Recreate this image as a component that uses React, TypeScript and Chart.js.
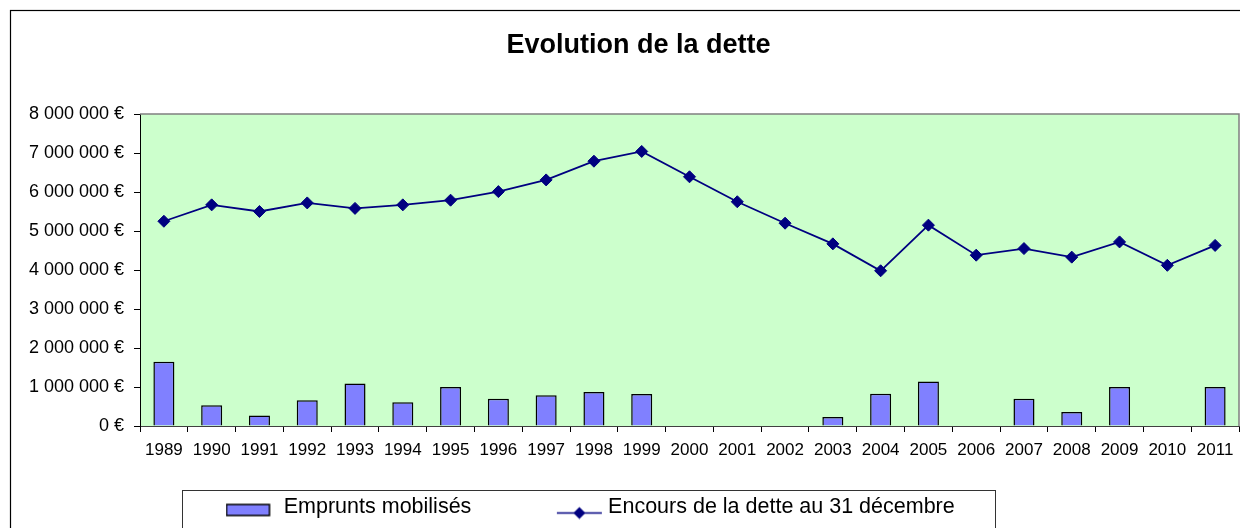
import React, { useEffect, useRef } from 'react';
import { Chart, registerables } from 'chart.js';

Chart.register(...registerables);

const TITLE = 'Evolution de la dette';
const YEARS = ['1989', '1990', '1991', '1992', '1993', '1994', '1995', '1996', '1997', '1998', '1999', '2000', '2001', '2002', '2003', '2004', '2005', '2006', '2007', '2008', '2009', '2010', '2011'];
const EMPRUNTS_LABEL = 'Emprunts mobilisés';
const ENCOURS_LABEL = 'Encours de la dette au 31 décembre';
const EMPRUNTS = [1650000, 530000, 270000, 660000, 1090000, 610000, 1000000, 700000, 790000, 870000, 820000, null, null, null, 230000, 830000, 1140000, null, 700000, 360000, 1000000, null, 1000000];
const ENCOURS = [5250000, 5670000, 5500000, 5720000, 5580000, 5670000, 5790000, 6010000, 6310000, 6790000, 7040000, 6390000, 5750000, 5200000, 4670000, 3980000, 5150000, 4380000, 4550000, 4330000, 4720000, 4120000, 4630000];
const Y_MIN = 0;
const Y_MAX = 8000000;
const Y_STEP = 1000000;

const FONT = "'Liberation Sans', Arial, Helvetica, sans-serif";
const W = 1268;
const H = 560;
const LEG_PAD = 79;

function fmtEuro(v: number): string {
  return String(Math.round(v)).replace(/\B(?=(\d{3})+(?!\d))/g, ' ') + ' €';
}

export default function App() {
  const ref = useRef<HTMLCanvasElement>(null);

  useEffect(() => {
    const canvas = ref.current;
    if (!canvas) return;

    const barImg = document.createElement('canvas');
    barImg.width = 48;
    barImg.height = 20;
    {
      const c = barImg.getContext('2d')!;
      c.fillStyle = '#8080FF';
      c.fillRect(1, 7, 43, 11);
      c.strokeStyle = '#000';
      c.lineWidth = 1.5;
      c.strokeRect(1, 7, 43, 11);
    }
    const lineImg = document.createElement('canvas');
    lineImg.width = 64;
    lineImg.height = 24;
    {
      const c = lineImg.getContext('2d')!;
      c.strokeStyle = '#000080';
      c.lineWidth = 1.5;
      c.beginPath();
      c.moveTo(15, 17.5);
      c.lineTo(60, 17.5);
      c.stroke();
      c.fillStyle = '#000080';
      c.beginPath();
      c.moveTo(31.5, 17.5);
      c.lineTo(37.5, 11.5);
      c.lineTo(43.5, 17.5);
      c.lineTo(37.5, 23.5);
      c.closePath();
      c.fill();
    }

    const deco = {
      id: 'deco',
      beforeLayout(chart: any) {
        const lg = chart.legend;
        if (lg && !lg.__patched) {
          const orig = lg.fit.bind(lg);
          lg.fit = function () {
            orig();
            this.height = 84;
          };
          lg.__patched = true;
        }
      },
      afterLayout(chart: any) {
        const lg = chart.legend;
        if (lg) {
          lg.left = 226 - LEG_PAD;
          lg.top = 417.75;
        }
      },
      beforeDraw(chart: any) {
        const { ctx, chartArea } = chart;
        ctx.save();
        ctx.fillStyle = '#ffffff';
        ctx.fillRect(0, 0, chart.width, chart.height);
        ctx.strokeStyle = '#000000';
        ctx.lineWidth = 1.2;
        ctx.strokeRect(10.5, 10.5, chart.width - 21, chart.height - 21);
        ctx.fillStyle = '#CCFFCC';
        ctx.fillRect(chartArea.left, chartArea.top, chartArea.right - chartArea.left, chartArea.bottom - chartArea.top);
        ctx.restore();
      },
      afterDraw(chart: any) {
        const { ctx, chartArea } = chart;
        ctx.save();
        ctx.strokeStyle = '#808080';
        ctx.lineWidth = 1.5;
        ctx.beginPath();
        ctx.moveTo(chartArea.left, chartArea.top);
        ctx.lineTo(chartArea.right, chartArea.top);
        ctx.lineTo(chartArea.right, chartArea.bottom);
        ctx.stroke();
        ctx.strokeStyle = '#333333';
        ctx.lineWidth = 1;
        ctx.strokeRect(182.5, 490.5, 813, 100);
        ctx.restore();
      },
    };

    const chart = new Chart(canvas, {
      type: 'bar',
      data: {
        labels: YEARS,
        datasets: [
          {
            type: 'bar',
            label: EMPRUNTS_LABEL,
            data: EMPRUNTS as any,
            backgroundColor: '#8080FF',
            borderColor: '#000000',
            borderWidth: 1.5,
            barPercentage: 0.44,
            categoryPercentage: 1.0,
            yAxisID: 'y',
          },
          {
            type: 'line',
            label: ENCOURS_LABEL,
            data: ENCOURS,
            borderColor: '#000080',
            backgroundColor: '#000080',
            borderWidth: 1.8,
            pointStyle: 'rectRot',
            pointRadius: 6,
            pointBorderWidth: 1,
            pointBackgroundColor: '#000080',
            pointBorderColor: '#000080',
            tension: 0,
            yAxisID: 'y',
          },
        ],
      },
      options: {
        responsive: false,
        animation: false,
        devicePixelRatio: 1,
        layout: { padding: { left: 10, right: 1, top: 0, bottom: 0 } },
        scales: {
          x: {
            offset: true,
            grid: { display: true, offset: true, drawOnChartArea: false, tickLength: 6, color: '#000000' },
            border: { display: true, color: '#404040', width: 1 },
            ticks: { color: '#000000', font: { family: FONT, size: 17 }, padding: 8, autoSkip: false, maxRotation: 0 },
            afterFit: (s: any) => {
              s.height = 50;
            },
          },
          y: {
            min: Y_MIN,
            max: Y_MAX,
            grid: { display: true, drawOnChartArea: false, tickLength: 6, color: '#000000' },
            border: { display: true, color: '#000000', width: 1 },
            ticks: {
              stepSize: Y_STEP,
              color: '#000000',
              font: { family: FONT, size: 18 },
              padding: 10,
              callback: (v: any) => fmtEuro(Number(v)),
            },
            afterFit: (s: any) => {
              s.width = 130;
            },
          },
          y2: {
            position: 'right',
            display: true,
            grid: { display: false },
            border: { display: false },
            ticks: { display: false },
            afterFit: (s: any) => {
              s.width = 28;
            },
          },
        },
        plugins: {
          title: {
            display: true,
            text: TITLE,
            color: '#000000',
            font: { family: FONT, size: 27, weight: 'bold' },
            padding: { top: 29, bottom: 52.6 },
          },
          legend: {
            display: true,
            position: 'bottom',
            align: 'start',
            labels: {
              color: '#000000',
              font: { family: FONT, size: 21.5 },
              usePointStyle: true,
              pointStyleWidth: 47,
              padding: LEG_PAD,
              sort: (a: any, b: any) => a.datasetIndex - b.datasetIndex,
              generateLabels: (ch: any) => {
                const items = (Chart.defaults.plugins.legend.labels as any).generateLabels(ch);
                return items.map((it: any) => ({
                  ...it,
                  pointStyle: it.datasetIndex === 0 ? barImg : lineImg,
                  rotation: 0,
                }));
              },
            },
          },
          tooltip: { enabled: false },
        },
      } as any,
      plugins: [deco],
    });

    return () => {
      chart.destroy();
    };
  }, []);

  return (
    <div style={{ position: 'fixed', left: 0, top: 0, width: 1240, height: 528, overflow: 'hidden', background: '#fff' }}>
      <canvas ref={ref} width={W} height={H} style={{ display: 'block', width: W, height: H }} />
    </div>
  );
}
